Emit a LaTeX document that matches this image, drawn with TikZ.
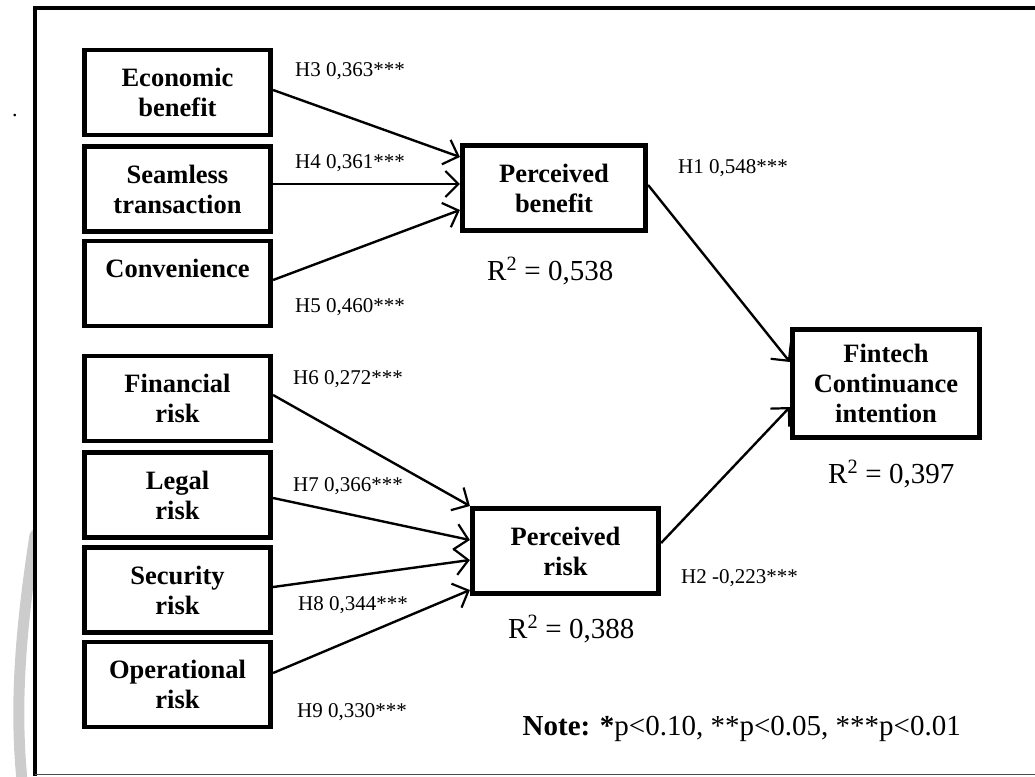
\documentclass[tikz,border=0pt]{standalone}
\usepackage{fontspec}
\setmainfont{Liberation Serif}
\usetikzlibrary{arrows.meta,calc}

\begin{document}
\begin{tikzpicture}[x=1pt,y=-1pt,
  construct/.style={draw, line width=4.7pt, minimum width=186.5pt,
    minimum height=85pt, inner sep=0pt, align=center,
    font=\fontsize{26.5}{30}\selectfont\bfseries},
  effect/.style={line width=2.4pt,
    -{Straight Barb[length=13pt,width=26pt,line width=2.2pt]}},
  coef/.style={font=\fontsize{21}{24}\selectfont, inner sep=0pt, anchor=base west},
  rsq/.style={font=\fontsize{29}{32}\selectfont, inner sep=0pt, anchor=base west}]

\useasboundingbox (0,0) rectangle (1035,776);

% grey arc in the lower left margin
\draw[line width=11pt, color=black!20, line cap=round]
  (35,535) .. controls (22,620) and (14,700) .. (22,780);

% outer frame
\fill[white] (35,8) rectangle (1040,774);
\draw[line width=4pt] (33.5,8) -- (1040,8);
\draw[line width=3.5pt] (35,6) -- (35,776);
\draw[line width=1.2pt, color=black!70] (35,774.5) -- (1040,774.5);

\node[inner sep=0pt, font=\fontsize{22}{24}\selectfont, anchor=base] (dot) at (15,116) {.};

% exogenous constructs
\node[construct] (eco)  at (177.5,92.5)  {Economic\\benefit};
\node[construct] (seam) at (177.5,189)   {Seamless\\transaction};
\node[construct] (conv) at (177.5,283.5) {Convenience\\\mbox{}};
\node[construct] (fin)  at (177.5,398.5) {Financial\\risk};
\node[construct] (leg)  at (177.5,495)   {Legal\\risk};
\node[construct] (sec)  at (177.5,590)   {Security\\risk};
\node[construct] (ope)  at (177.5,684.5) {Operational\\risk};

% mediators and outcome
\node[construct, minimum width=183.5pt, minimum height=85.5pt] (pb) at (554,188) {Perceived\\benefit};
\node[construct, minimum width=186.5pt, minimum height=85.5pt] (pr) at (565.5,551) {Perceived\\risk};
\node[construct, minimum width=187.5pt, minimum height=108.5pt] (fci) at (886,383.5) {Fintech\\Continuance\\intention};

% structural paths
\draw[effect] ($(eco.east)+(0,-2.5)$) -- ($(pb.west)+(0,-31)$);
\draw[effect] ($(seam.east)+(0,-5)$) -- ($(pb.west)+(0,-4)$);
\draw[effect] ($(conv.east)+(0,-3.5)$) -- ($(pb.west)+(0,22)$);
\draw[effect] ($(fin.east)+(0,-3.5)$) -- ($(pr.west)+(0,-45)$);
\draw[effect] ($(leg.east)+(0,3)$) -- ($(pr.west)+(0,-11)$);
\draw[effect] ($(sec.east)+(0,-3)$) -- ($(pr.west)+(0,9)$);
\draw[effect] ($(ope.east)+(0,-11.5)$) -- ($(pr.west)+(0,39)$);
\draw[effect] ($(pb.east)+(0,-3)$) -- ($(fci.west)+(0,-21.5)$);
\draw[effect] ($(pr.east)+(0,-8)$) -- ($(fci.west)+(0,23.5)$);

% path coefficients
\node[coef] (h3) at (295,77)  {H3 0,363***};
\node[coef] (h4) at (295,168) {H4 0,361***};
\node[coef] (h5) at (295,312) {H5 0,460***};
\node[coef] (h6) at (293,384) {H6 0,272***};
\node[coef] (h7) at (293,491) {H7 0,366***};
\node[coef] (h8) at (298,610) {H8 0,344***};
\node[coef] (h9) at (297,717) {H9 0,330***};
\node[coef] (h1) at (678,173) {H1 0,548***};
\node[coef] (h2) at (681,583) {H2 -0,223***};

% explained variance
\node[rsq] (r1) at (487,280) {R\textsuperscript{2} = 0,538};
\node[rsq] (r2) at (508,638) {R\textsuperscript{2} = 0,388};
\node[rsq] (r3) at (828,483) {R\textsuperscript{2} = 0,397};

% significance note
\node[font=\fontsize{29}{32}\selectfont, inner sep=0pt, anchor=base east] (note) at (961,735)
  {\textbf{Note: *}p<0.10, **p<0.05, ***p<0.01};
\end{tikzpicture}
\end{document}
